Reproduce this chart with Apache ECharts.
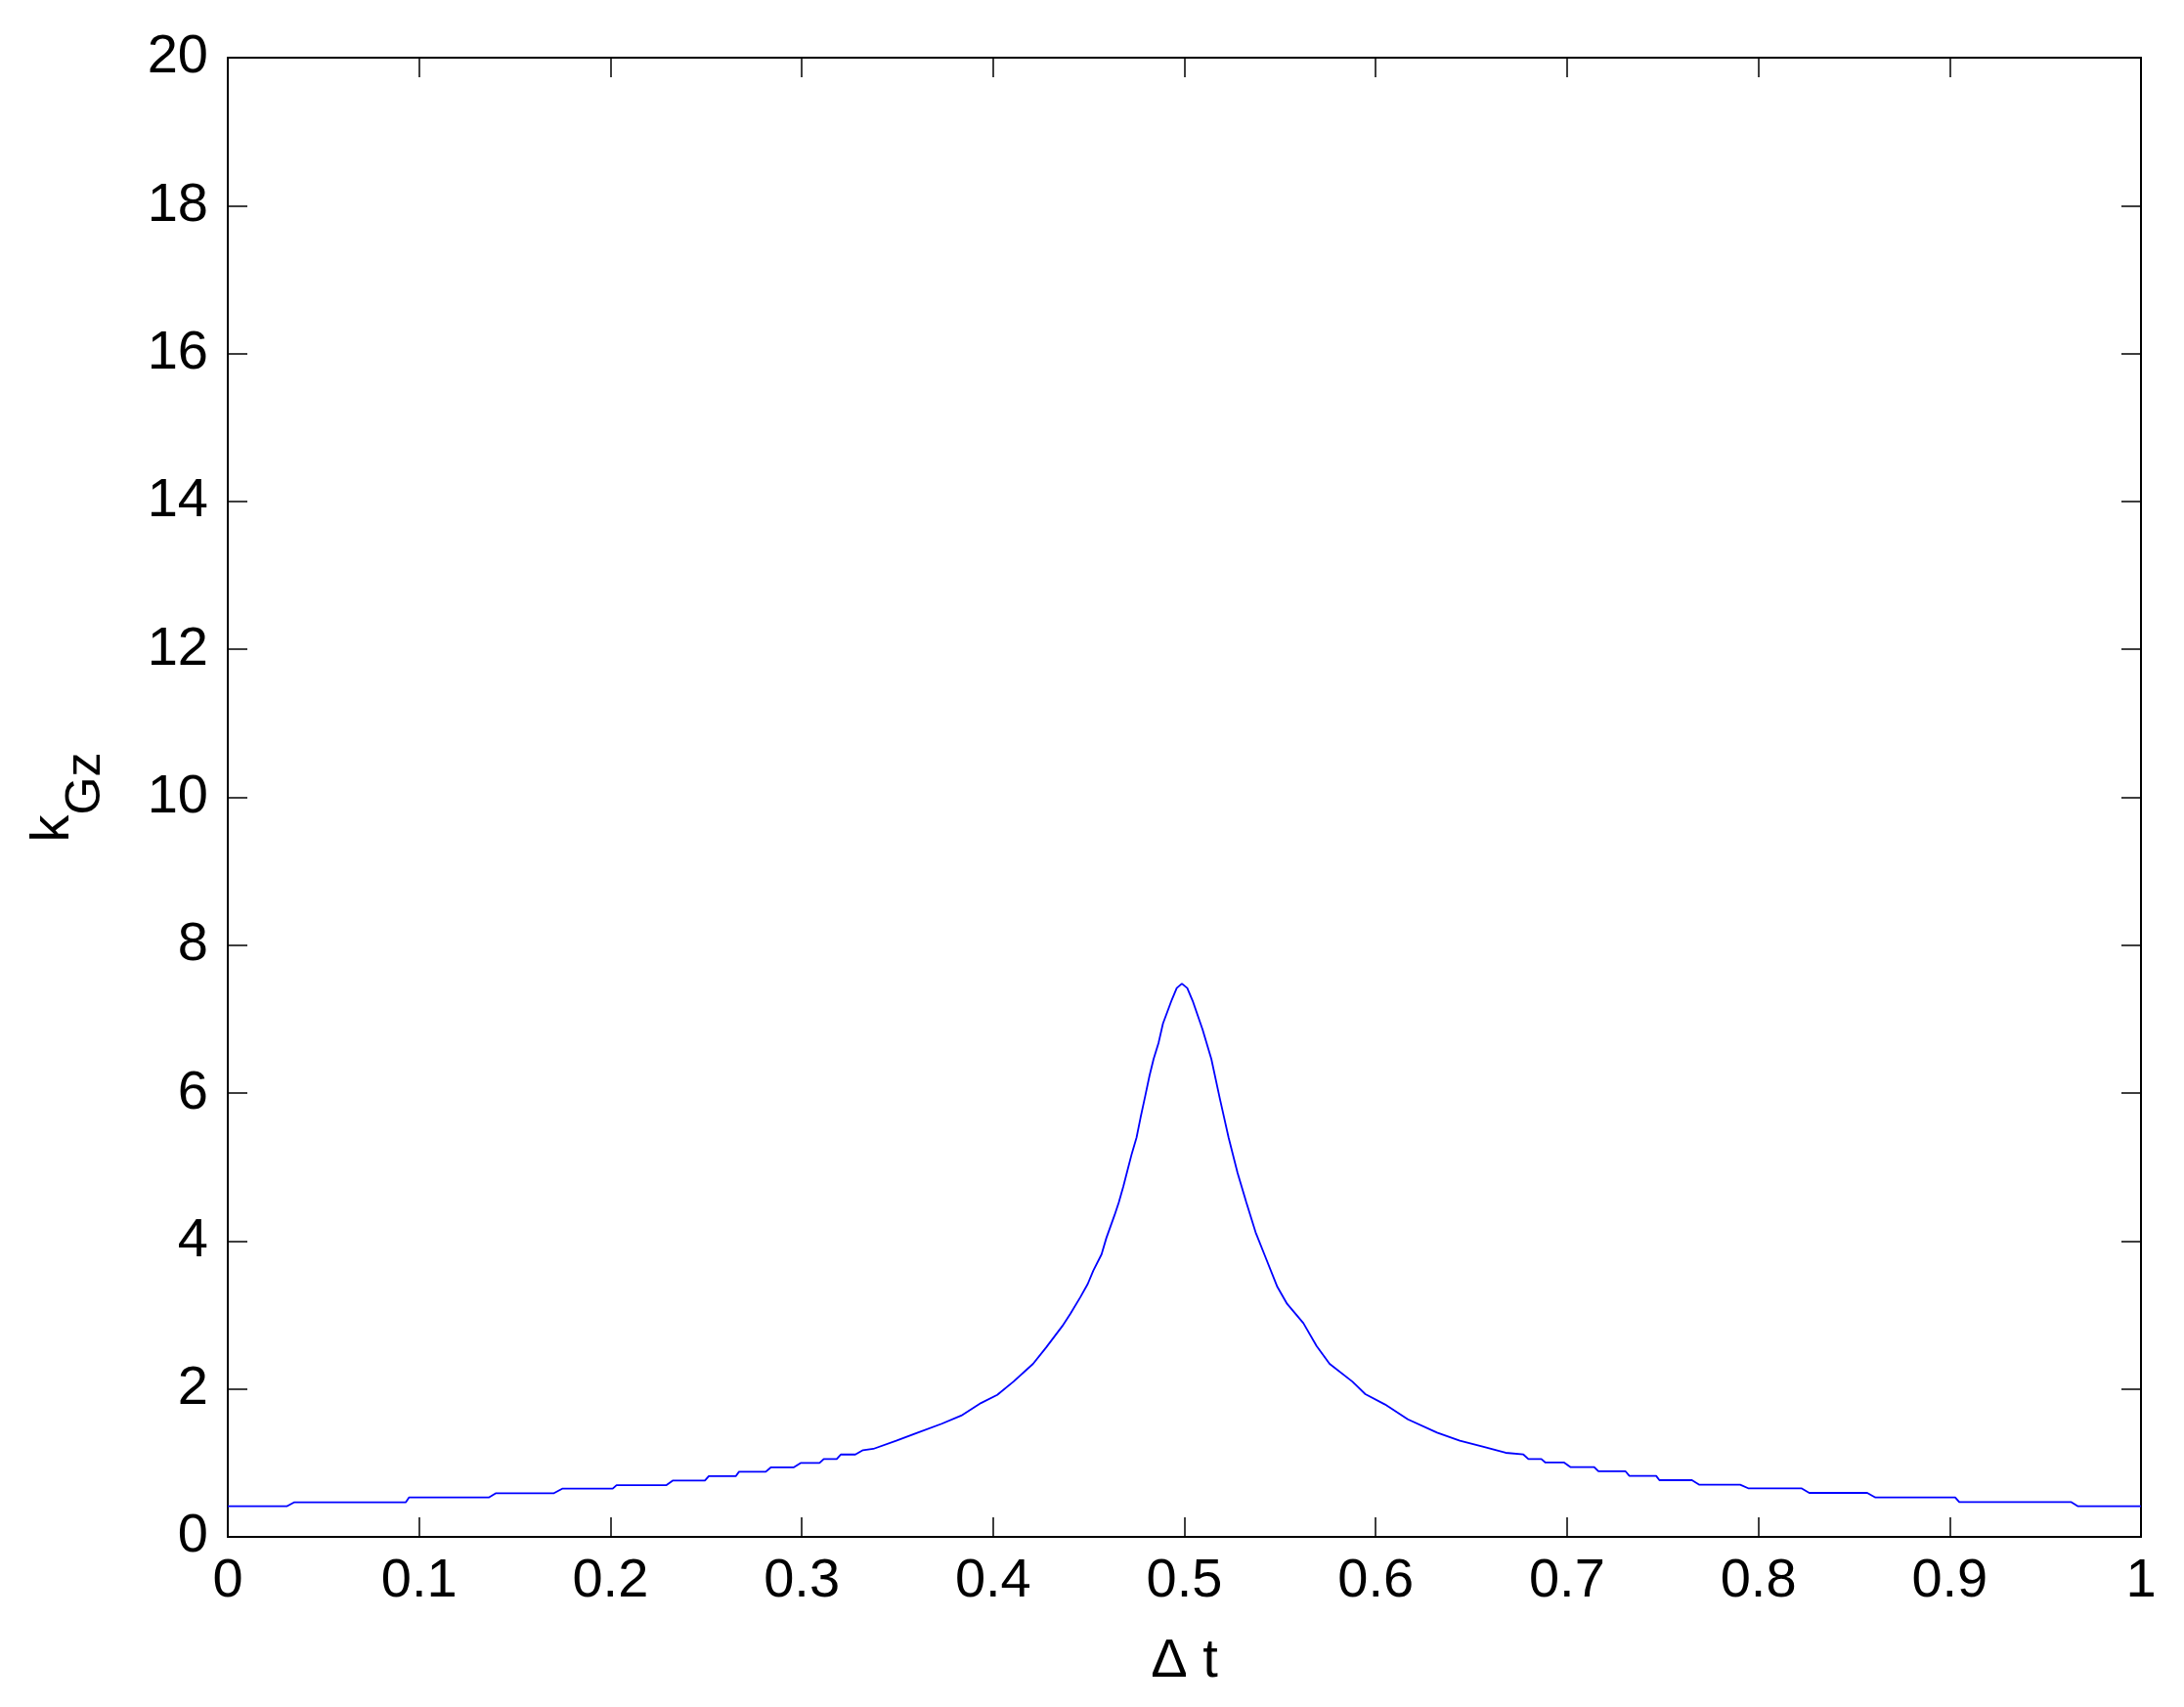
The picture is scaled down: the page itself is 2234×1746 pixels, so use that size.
<!DOCTYPE html>
<html>
<head>
<meta charset="utf-8">
<script src="https://cdn.jsdelivr.net/npm/echarts@6/dist/echarts.min.js"></script>
<style>
  html, body { margin: 0; padding: 0; background: #fff; }
  #chart { width: 2234px; height: 1746px; }
</style>
</head>
<body>
<div id="chart"></div>
<script>
// values
var dt = [
  0, 0.0308, 0.0346, 0.093, 0.0947, 0.1364, 0.1402, 0.1705, 0.1748, 0.2012,
  0.2032, 0.2293, 0.2327, 0.2494, 0.2514, 0.2655, 0.2672, 0.2812, 0.2838, 0.2957,
  0.2996, 0.3093, 0.3115, 0.3183, 0.3204, 0.328, 0.332, 0.3374, 0.3494, 0.3596,
  0.3732, 0.3834, 0.3937, 0.4022, 0.4107, 0.4209, 0.4277, 0.4362, 0.4405, 0.4456,
  0.4495, 0.4524, 0.4567, 0.4592, 0.4635, 0.4657, 0.4681, 0.4703, 0.4725, 0.475,
  0.4771, 0.4796, 0.4818, 0.4839, 0.4865, 0.4888, 0.4934, 0.496, 0.4987, 0.5015,
  0.5043, 0.5095, 0.5141, 0.5185, 0.5231, 0.5278, 0.5324, 0.5372, 0.5418, 0.5486,
  0.5537, 0.5622, 0.5691, 0.5759, 0.5878, 0.5946, 0.6049, 0.6168, 0.6321, 0.644,
  0.6559, 0.6679, 0.6772, 0.6798, 0.6866, 0.6887, 0.6985, 0.7019, 0.7142, 0.7164,
  0.7306, 0.7326, 0.7466, 0.7483, 0.7653, 0.7692, 0.7905, 0.7947, 0.8225, 0.8266,
  0.8569, 0.8612, 0.9029, 0.905, 0.9634, 0.9671, 1
];
var kGz = [
  0.414, 0.414, 0.467, 0.467, 0.533, 0.533, 0.591, 0.591, 0.652, 0.652,
  0.700, 0.700, 0.763, 0.763, 0.820, 0.820, 0.881, 0.881, 0.939, 0.939,
  1.000, 1.000, 1.053, 1.053, 1.114, 1.114, 1.172, 1.19, 1.30, 1.40,
  1.53, 1.64, 1.81, 1.92, 2.10, 2.34, 2.56, 2.85, 3.02, 3.24,
  3.42, 3.60, 3.82, 4.04, 4.35, 4.52, 4.74, 4.96, 5.18, 5.40,
  5.67, 5.97, 6.24, 6.46, 6.68, 6.94, 7.26, 7.42, 7.48, 7.42,
  7.25, 6.86, 6.46, 5.93, 5.40, 4.92, 4.52, 4.12, 3.82, 3.38,
  3.15, 2.89, 2.58, 2.34, 2.10, 1.93, 1.79, 1.59, 1.41, 1.30,
  1.22, 1.137, 1.114, 1.053, 1.053, 1.005, 1.005, 0.943, 0.943, 0.886,
  0.886, 0.824, 0.824, 0.767, 0.767, 0.705, 0.705, 0.657, 0.657, 0.595,
  0.595, 0.533, 0.533, 0.472, 0.472, 0.414, 0.414
];
var xTicks = [0, 1, 0.1];   // min, max, interval
var yTicks = [0, 20, 2];

var font = '"Liberation Sans", Arial, sans-serif';
var points = dt.map(function (x, i) { return [x, kGz[i]]; });

var line = { show: true, onZero: false, lineStyle: { color: '#000', width: 2 } };
var tick = { show: true, inside: true, length: 20, lineStyle: { color: '#000', width: 1.5 } };

var chart = echarts.init(document.getElementById('chart'));
chart.setOption({
  animation: false,
  backgroundColor: '#fff',
  grid: { left: 233, right: 44, top: 59, bottom: 174 },
  xAxis: [
    {
      type: 'value', position: 'bottom', min: xTicks[0], max: xTicks[1], interval: xTicks[2],
      name: 'Δ t', nameLocation: 'middle', nameGap: 100,
      nameTextStyle: { color: '#000', fontSize: 56, fontFamily: font },
      axisLine: line,
      axisTick: tick,
      axisLabel: { color: '#000', fontSize: 56, fontFamily: font, margin: 18 },
      splitLine: { show: false }
    },
    {
      type: 'value', position: 'top', min: xTicks[0], max: xTicks[1], interval: xTicks[2],
      axisLine: line,
      axisTick: tick,
      axisLabel: { show: false },
      splitLine: { show: false }
    }
  ],
  yAxis: [
    {
      type: 'value', position: 'left', min: yTicks[0], max: yTicks[1], interval: yTicks[2],
      name: '{k|k}{sub|Gz}', nameLocation: 'middle', nameGap: 120, nameRotate: 90,
      nameTextStyle: {
        color: '#000', fontFamily: font,
        rich: {
          k: { fontSize: 56, lineHeight: 56, verticalAlign: 'top', fontFamily: font, color: '#000' },
          sub: { fontSize: 50, lineHeight: 86, verticalAlign: 'bottom', fontFamily: font, color: '#000' }
        }
      },
      axisLine: line,
      axisTick: tick,
      axisLabel: { color: '#000', fontSize: 56, fontFamily: font, margin: 20 },
      splitLine: { show: false }
    },
    {
      type: 'value', position: 'right', min: yTicks[0], max: yTicks[1], interval: yTicks[2],
      axisLine: line,
      axisTick: tick,
      axisLabel: { show: false },
      splitLine: { show: false }
    }
  ],
  series: [
    {
      type: 'line',
      data: points,
      showSymbol: false,
      lineStyle: { color: '#0000ff', width: 1.8 }
    }
  ]
});
</script>
</body>
</html>
